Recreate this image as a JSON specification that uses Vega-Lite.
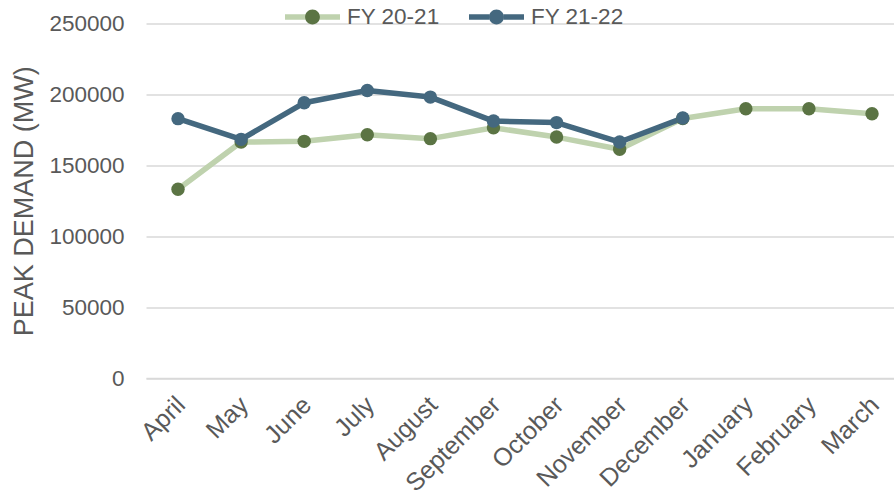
{
  "$schema": "https://vega.github.io/schema/vega-lite/v6.json",
  "autosize": {"type": "none"},
  "width": 748,
  "height": 354.5,
  "padding": {"left": 146, "top": 23.5, "right": 0, "bottom": 113},
  "background": "white",
  "config": {
    "font": "Liberation Sans",
    "view": {"stroke": null}
  },
  "data": {
    "values": [
      {"month": "April", "series": "FY 20-21", "value": 133100},
      {"month": "May", "series": "FY 20-21", "value": 166400},
      {"month": "June", "series": "FY 20-21", "value": 166900},
      {"month": "July", "series": "FY 20-21", "value": 171600},
      {"month": "August", "series": "FY 20-21", "value": 168800},
      {"month": "September", "series": "FY 20-21", "value": 176500},
      {"month": "October", "series": "FY 20-21", "value": 169900},
      {"month": "November", "series": "FY 20-21", "value": 161300},
      {"month": "December", "series": "FY 20-21", "value": 183000},
      {"month": "January", "series": "FY 20-21", "value": 189900},
      {"month": "February", "series": "FY 20-21", "value": 189900},
      {"month": "March", "series": "FY 20-21", "value": 186400},
      {"month": "April", "series": "FY 21-22", "value": 182900},
      {"month": "May", "series": "FY 21-22", "value": 168300},
      {"month": "June", "series": "FY 21-22", "value": 194100},
      {"month": "July", "series": "FY 21-22", "value": 202800},
      {"month": "August", "series": "FY 21-22", "value": 198100},
      {"month": "September", "series": "FY 21-22", "value": 181200},
      {"month": "October", "series": "FY 21-22", "value": 180100},
      {"month": "November", "series": "FY 21-22", "value": 166400},
      {"month": "December", "series": "FY 21-22", "value": 183300}
    ]
  },
  "encoding": {
    "x": {
      "field": "month",
      "type": "nominal",
      "sort": ["April", "May", "June", "July", "August", "September", "October", "November", "December", "January", "February", "March"],
      "scale": {"type": "point", "padding": 0.428, "align": 0.593},
      "axis": {
        "title": null,
        "labelAngle": -45,
        "labelFontSize": 25,
        "labelColor": "#595959",
        "labelPadding": 14,
        "labelOffset": -6,
        "ticks": false,
        "domainColor": "#d9d9d9",
        "domainWidth": 1.5,
        "grid": false
      }
    },
    "y": {
      "field": "value",
      "type": "quantitative",
      "scale": {"domain": [0, 250000], "nice": false},
      "axis": {
        "title": "PEAK DEMAND (MW)",
        "titleFontSize": 27,
        "titleFontWeight": "normal",
        "titleColor": "#595959",
        "titlePadding": 10,
        "values": [0, 50000, 100000, 150000, 200000, 250000],
        "format": "d",
        "labelFontSize": 22.5,
        "labelColor": "#595959",
        "labelPadding": 22,
        "ticks": false,
        "domain": false,
        "gridColor": "#d9d9d9",
        "gridWidth": 1.5
      }
    }
  },
  "layer": [
    {
      "mark": {"type": "line", "strokeWidth": 5.5, "strokeCap": "round", "strokeJoin": "round"},
      "encoding": {
        "stroke": {
          "field": "series",
          "type": "nominal",
          "scale": {"domain": ["FY 20-21", "FY 21-22"], "range": ["#bfd2ae", "#44687f"]},
          "legend": {
            "title": null,
            "orient": "none",
            "direction": "horizontal",
            "legendX": 136,
            "legendY": -37,
            "padding": 0,
            "symbolType": "M-1,0H-0.25M0.25,0H1",
            "symbolSize": 3025,
            "symbolStrokeWidth": 5.5,
            "labelFontSize": 22.5,
            "labelColor": "#595959",
            "labelOffset": 4,
            "columnPadding": 18
          }
        }
      }
    },
    {
      "mark": {"type": "point", "filled": true, "opacity": 1, "size": 180},
      "encoding": {
        "fill": {
          "field": "series",
          "type": "nominal",
          "scale": {"range": ["#5b7444", "#44687f"]},
          "legend": {
            "title": null,
            "orient": "none",
            "direction": "horizontal",
            "legendX": 136,
            "legendY": -37,
            "padding": 0,
            "symbolType": "M-1,0L1,0M-0.27,0A0.27,0.27,0,1,0,0.27,0A0.27,0.27,0,1,0,-0.27,0Z",
            "symbolSize": 3025,
            "symbolStrokeWidth": 5.5,
            "symbolStrokeColor": "transparent",
            "symbolOpacity": 1,
            "labelFontSize": 22.5,
            "labelColor": "#595959",
            "labelOpacity": 0,
            "labelOffset": 4,
            "columnPadding": 18
          }
        }
      }
    }
  ]
}
